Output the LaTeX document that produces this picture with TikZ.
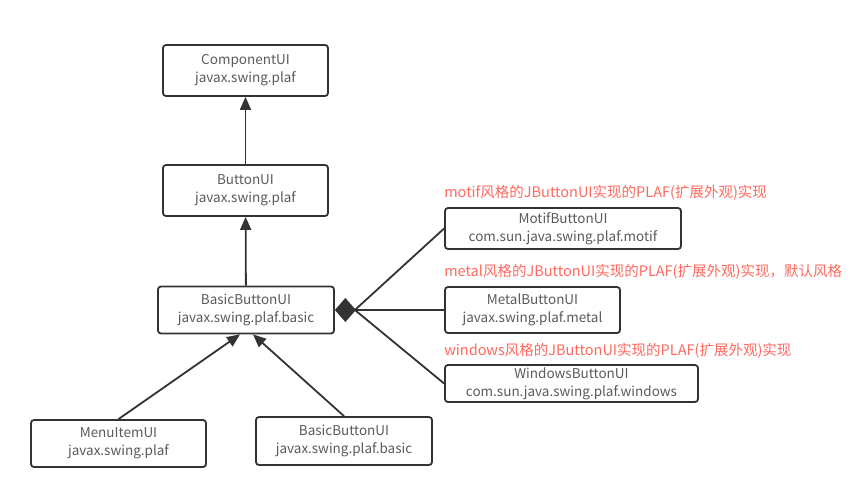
\documentclass[tikz,border=0pt]{standalone}
\usepackage{fontspec}
\setmainfont{Noto Sans CJK SC}
\usepackage{xcolor}
\definecolor{boxline}{RGB}{51,51,51}
\definecolor{boxtext}{RGB}{90,90,90}
\definecolor{notered}{RGB}{255,105,95}
\usetikzlibrary{arrows.meta,positioning}

\tikzset{
  umlbox/.style={draw=boxline, line width=1.8pt, rounded corners=3pt, align=center,
    text=boxtext, inner sep=2pt, font=\fontsize{13.5}{18}\selectfont},
  plafnote/.style={text=notered, inner sep=0pt, anchor=south west, font=\fontsize{14.5}{16}\selectfont},
  inherit/.style={-{Triangle[length=13pt,width=11pt]}, line width=1.8pt, draw=boxline},
  link/.style={line width=1.8pt, draw=boxline}
}

\begin{document}
\begin{tikzpicture}[x=1pt, y=-1pt]
        \useasboundingbox (0,0) rectangle (860,479);

        \node (comp) [umlbox, minimum width=165pt, minimum height=51pt] at (245.5,70.5) {ComponentUI\\javax.swing.plaf};
        \node (button) [umlbox, minimum width=165pt, minimum height=51pt] at (245.5,190.5) {ButtonUI\\javax.swing.plaf};
        \node (basic) [umlbox, minimum width=176pt, minimum height=47pt] at (246,310) {BasicButtonUI\\javax.swing.plaf.basic};

        \node (motif) [umlbox, minimum width=236pt, minimum height=41pt] at (563,228.5) {MotifButtonUI\\com.sun.java.swing.plaf.motif};
        \node (metal) [umlbox, minimum width=175pt, minimum height=46pt] at (532.5,310) {MetalButtonUI\\javax.swing.plaf.metal};
        \node (windows) [umlbox, minimum width=253pt, minimum height=37pt] at (571.5,383.5) {WindowsButtonUI\\com.sun.java.swing.plaf.windows};

        \node (menuitem) [umlbox, minimum width=175pt, minimum height=47pt] at (118.5,443.5) {MenuItemUI\\javax.swing.plaf};
        \node (basicsub) [umlbox, minimum width=176pt, minimum height=48pt] at (344,441) {BasicButtonUI\\javax.swing.plaf.basic};

        % notes above the look-and-feel boxes
        \node (motifnote) [plafnote] at ([yshift=7pt]motif.north west) {motif风格的JButtonUI实现的PLAF(扩展外观)实现};
        \node (metalnote) [plafnote] at ([yshift=7pt]metal.north west) {metal风格的JButtonUI实现的PLAF(扩展外观)实现，默认风格};
        \node (windowsnote) [plafnote] at ([yshift=6pt]windows.north west) {windows风格的JButtonUI实现的PLAF(扩展外观)实现};

        \draw[inherit] (button) -- (comp);
        \draw[inherit] (basic) -- (button);
        \draw[inherit] (menuitem.north) -- ([xshift=-6pt]basic.south);
        \draw[inherit] (basicsub.north) -- ([xshift=7pt]basic.south);

        \coordinate (hub) at ([xshift=20pt]basic.east);
        \draw[link, {Diamond[length=21pt,width=24pt]}-] (basic.east) -- (metal.west);
        \draw[link] (hub) -- (motif.west);
        \draw[link] (hub) -- (windows.west);
      \end{tikzpicture}
\end{document}
